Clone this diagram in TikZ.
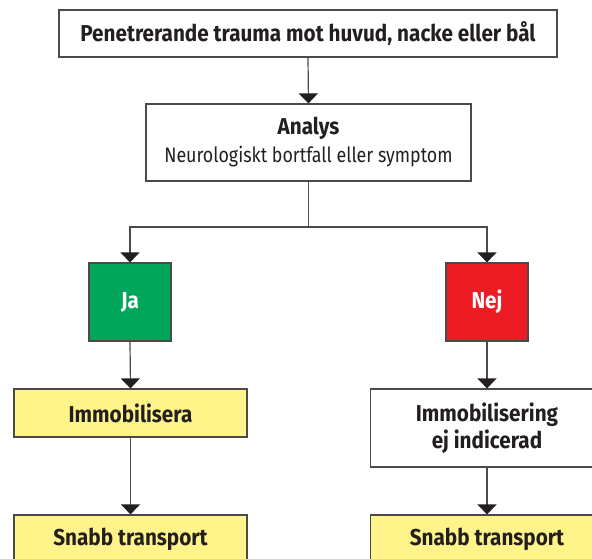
\documentclass[tikz,border=0pt]{standalone}
\usepackage{fontspec}
\setmainfont{Fira Sans}[FakeStretch=0.90]
\newfontfamily\narrowreg{Fira Sans}[FakeStretch=0.85]
\usetikzlibrary{arrows.meta}
\definecolor{jagreen}{HTML}{00A65A}
\definecolor{nejred}{HTML}{ED1C24}
\definecolor{boxyellow}{HTML}{FFF48A}
\definecolor{linegray}{HTML}{4A4A4A}
\definecolor{inkblack}{HTML}{231F20}
\tikzset{
  box/.style={draw=linegray, line width=1.2pt, rectangle, align=center, text=inkblack,
    font=\fontsize{23}{27}\selectfont\bfseries, inner sep=0pt},
  conn/.style={draw=linegray, line width=1.2pt, -{Triangle[width=19pt,length=10pt,color=inkblack]}},
  plain/.style={draw=linegray, line width=1.2pt}
}
\begin{document}
\begin{tikzpicture}[x=1pt,y=-1pt]
\useasboundingbox (0,0) rectangle (592,559);
\node[box, minimum width=498pt, minimum height=47pt] (top) at (308,33.5)
  {Penetrerande trauma mot huvud, nacke eller bål};
\node[box, minimum width=325pt, minimum height=77pt] (analys) at (308.5,142.5)
  {Analys\\[1pt]{\narrowreg\fontsize{21}{27}\selectfont\mdseries Neurologiskt bortfall eller symptom}};
\node[box, fill=jagreen, text=white, minimum width=82pt, minimum height=78pt] (ja) at (130,302) {Ja};
\node[box, fill=nejred, text=white, minimum width=82pt, minimum height=78pt] (nej) at (487,302) {Nej};
\node[box, fill=boxyellow, minimum width=233pt, minimum height=48pt] (immo) at (130.5,413) {Immobilisera};
\node[box, fill=white, minimum width=233pt, minimum height=78pt] (immoej) at (487,428)
  {Immobilisering\\ej indicerad};
\node[box, fill=boxyellow, minimum width=233pt, minimum height=48pt] (snabbA) at (130.5,539) {Snabb transport};
\node[box, fill=boxyellow, minimum width=233pt, minimum height=48pt] (snabbB) at (487,539) {Snabb transport};
\coordinate (split) at (308.5,227);
\draw[conn] (top.south) -- (analys.north);
\draw[plain] (analys.south) -- (split);
\draw[conn] (split) -| (ja.north);
\draw[conn] (split) -| (nej.north);
\draw[conn] (ja.south) -- (immo.north);
\draw[conn] (nej.south) -- (immoej.north);
\draw[conn] (immo.south) -- (snabbA.north);
\draw[conn] (immoej.south) -- (snabbB.north);
\end{tikzpicture}
\end{document}
